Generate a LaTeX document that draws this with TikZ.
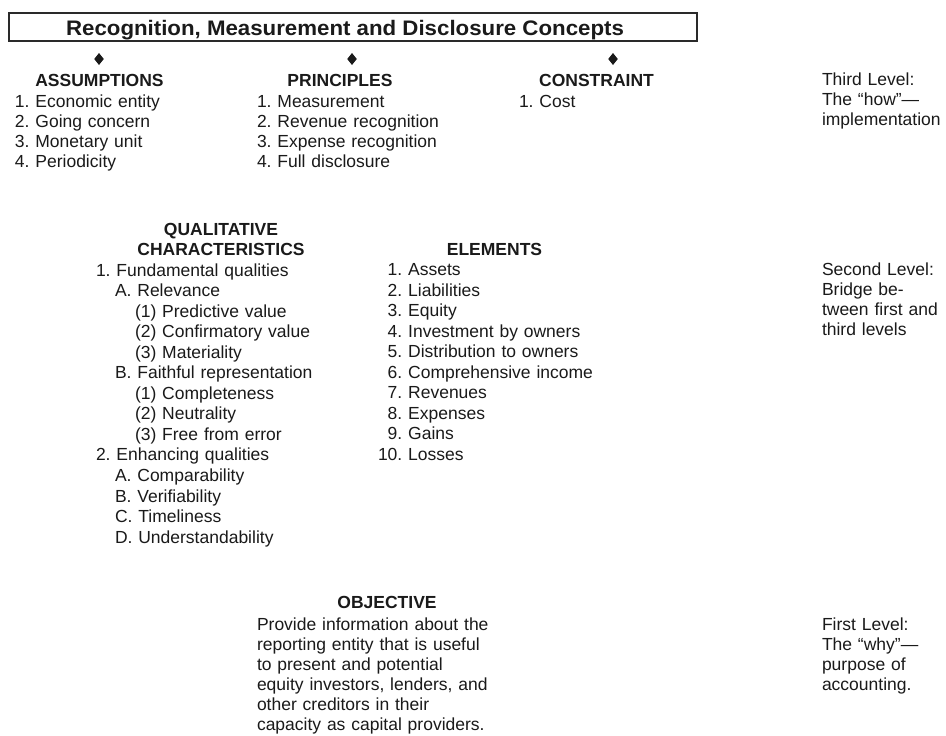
\documentclass[tikz,border=0pt]{standalone}
\usepackage{fontspec}
\setmainfont{Liberation Sans}
\newfontfamily\titlefont[FakeStretch=1.06]{Liberation Sans}
\usetikzlibrary{shapes.geometric}
\definecolor{ink}{HTML}{1A1A1A}
\definecolor{boxline}{HTML}{2A2A2A}
\frenchspacing
\begin{document}
\begin{tikzpicture}[x=1pt,y=-1pt,
  every node/.style={text=ink, inner sep=0pt, outer sep=0pt},
  hdr/.style={font={\frenchspacing\fontsize{17.5}{20.5}\selectfont\bfseries}, anchor=base},
  lst/.style={font={\frenchspacing\fontsize{17.5}{20}\selectfont}, anchor=base west, align=left, text width=260pt},
  lstq/.style={font={\frenchspacing\fontsize{17.5}{20.55}\selectfont}, anchor=base west, align=left, text width=260pt},
  bullet/.style={diamond, fill=ink, minimum width=9.5pt, minimum height=12pt}
]
\useasboundingbox (0,0) rectangle (946,736);
\fill[white] (0,0) rectangle (946,736);

% title
\node[draw=boxline, line width=1.8pt, minimum width=688pt, minimum height=28pt] (titlebox) at (353,26.7) {};
\node[font={\titlefont\fontsize{21}{24}\selectfont\bfseries}, anchor=base] (title) at (345,35) {Recognition, Measurement and Disclosure Concepts};

% diamonds
\node[bullet] (d1) at (99,59) {};
\node[bullet] (d2) at (352,59) {};
\node[bullet] (d3) at (613,59) {};

% third level
\node[hdr] (assump) at (99.5,86.5) {ASSUMPTIONS};
\node[lst] (assumplist) at (15,107) {1. Economic entity\\2. Going concern\\3. Monetary unit\\4. Periodicity};

\node[hdr] (princ) at (340,86.5) {PRINCIPLES};
\node[lst] (princlist) at (257,107) {1. Measurement\\2. Revenue recognition\\3. Expense recognition\\4. Full disclosure};

\node[hdr] (constr) at (596.5,86) {CONSTRAINT};
\node[lst] (constrlist) at (519,107) {1. Cost};

\node[lst, text width=130pt] (third) at (822,85.5) {Third Level:\\The “how”—\\implementation};

% second level
\node[hdr, align=center, anchor=base] (qual) at (221,255.7) {QUALITATIVE\\CHARACTERISTICS};
\node[lstq] (quallist) at (96,276) {1. Fundamental qualities\\
\hspace*{19pt}A. Relevance\\
\hspace*{39pt}(1) Predictive value\\
\hspace*{39pt}(2) Confirmatory value\\
\hspace*{39pt}(3) Materiality\\
\hspace*{19pt}B. Faithful representation\\
\hspace*{39pt}(1) Completeness\\
\hspace*{39pt}(2) Neutrality\\
\hspace*{39pt}(3) Free from error\\
2. Enhancing qualities\\
\hspace*{19pt}A. Comparability\\
\hspace*{19pt}B. Verifiability\\
\hspace*{19pt}C. Timeliness\\
\hspace*{19pt}D. Understandability};

\node[hdr] (elem) at (494.5,255) {ELEMENTS};
\node[lstq] (elemlist) at (378,275.5) {\hphantom{1}1. Assets\\
\hphantom{1}2. Liabilities\\
\hphantom{1}3. Equity\\
\hphantom{1}4. Investment by owners\\
\hphantom{1}5. Distribution to owners\\
\hphantom{1}6. Comprehensive income\\
\hphantom{1}7. Revenues\\
\hphantom{1}8. Expenses\\
\hphantom{1}9. Gains\\
10. Losses};

\node[lst, text width=130pt] (second) at (822,275) {Second Level:\\Bridge be-\\tween first and\\third levels};

% first level
\node[hdr] (obj) at (387,608) {OBJECTIVE};
\node[lst] (objtext) at (257,630) {Provide information about the\\
reporting entity that is useful\\
to present and potential\\
equity investors, lenders, and\\
other creditors in their\\
capacity as capital providers.};

\node[lst, text width=130pt] (first) at (822,630) {First Level:\\The “why”—\\purpose of\\accounting.};
\end{tikzpicture}
\end{document}
